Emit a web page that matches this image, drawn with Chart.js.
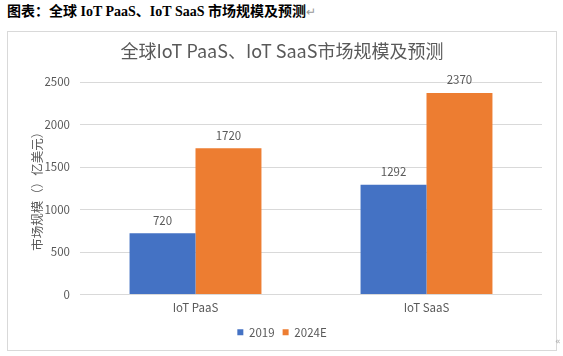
<!DOCTYPE html>
<html><head><meta charset="utf-8">
<script src="https://cdn.jsdelivr.net/npm/chart.js@4"></script>
<style>
html,body{margin:0;padding:0;background:#fff;width:563px;height:356px;overflow:hidden;}
#heading{position:absolute;left:7px;top:3px;font-family:"Liberation Serif","Noto Sans CJK SC",serif;font-weight:bold;font-size:14px;color:#000;white-space:nowrap;line-height:18px;}
#heading .pm{color:#999;font-weight:normal;font-size:12px;}
#box{position:absolute;left:7px;top:31px;width:548px;height:318px;border:1px solid #d9d9d9;}
#c{display:block;}
#mark{position:absolute;left:555px;top:336px;font-size:9px;color:#aaa;font-family:"DejaVu Sans";}
</style></head>
<body>
<div id="heading">图表：全球 IoT PaaS、IoT SaaS 市场规模及预测<span class="pm">↵</span></div>
<div id="box"><canvas id="c" width="548" height="318"></canvas></div>
<div id="mark">«</div>
<script>
const chartTitle = '全球IoT PaaS、IoT SaaS市场规模及预测';
const yAxisTitle = '市场规模（）亿美元）';
const categories = ['IoT PaaS', 'IoT SaaS'];
const seriesNames = ['2019', '2024E'];
const values2019 = [720, 1292];
const values2024E = [1720, 2370];
const yTicks = [0, 500, 1000, 1500, 2000, 2500];

const TXT = '#595959';
const FONT = '"Noto Sans CJK SC","Noto Sans",sans-serif';

const valueLabels = {
  id: 'valueLabels',
  afterDatasetsDraw(chart) {
    const ctx = chart.ctx;
    ctx.save();
    ctx.font = '11.5px ' + FONT;
    ctx.fillStyle = TXT;
    ctx.textAlign = 'center';
    ctx.textBaseline = 'middle';
    chart.data.datasets.forEach((ds, i) => {
      const meta = chart.getDatasetMeta(i);
      meta.data.forEach((el, j) => {
        ctx.fillText(String(ds.data[j]), el.x, el.y - 13);
      });
    });
    ctx.restore();
  }
};

new Chart(document.getElementById('c'), {
  type: 'bar',
  data: {
    labels: categories,
    datasets: [
      { label: seriesNames[0], data: values2019, backgroundColor: '#4472C4', categoryPercentage: 0.571, barPercentage: 1.0 },
      { label: seriesNames[1], data: values2024E, backgroundColor: '#ED7D31', categoryPercentage: 0.571, barPercentage: 1.0 }
    ]
  },
  options: {
    responsive: false,
    animation: false,
    devicePixelRatio: 1,
    layout: { padding: { left: 0, right: 0, top: 0, bottom: 2 } },
    plugins: {
      title: {
        display: true, text: chartTitle, color: TXT,
        font: { family: FONT, size: 18, weight: 'normal', lineHeight: 1.2 },
        padding: { top: 8, bottom: 20.4 }
      },
      legend: {
        display: true, position: 'bottom',
        labels: { color: TXT, boxWidth: 6, boxHeight: 6, padding: 8, font: { family: FONT, size: 11.5 } }
      },
      tooltip: { enabled: false }
    },
    scales: {
      x: {
        grid: { display: false, drawTicks: false },
        border: { display: false },
        ticks: { color: TXT, padding: 6, font: { family: FONT, size: 11.5 } },
        afterFit(s) { s.height = 24; }
      },
      y: {
        min: 0, max: 2500,
        afterBuildTicks(s) { s.ticks = yTicks.map(v => ({ value: v })); },
        grid: { color: '#d9d9d9', drawTicks: false, lineWidth: 1 },
        border: { display: false },
        ticks: { color: TXT, padding: 10, font: { family: FONT, size: 11.5 }, callback: (v) => String(v) },
        title: { display: true, text: yAxisTitle, color: TXT, font: { family: FONT, size: 12.5 }, padding: { top: 21.5, bottom: 0 } },
        afterFit(s) { s.width = 72; }
      },
      yR: {
        position: 'right', display: true,
        grid: { display: false, drawTicks: false },
        border: { display: false },
        ticks: { display: false },
        afterFit(s) { s.width = 14; }
      }
    }
  },
  plugins: [valueLabels]
});
</script>
</body></html>
